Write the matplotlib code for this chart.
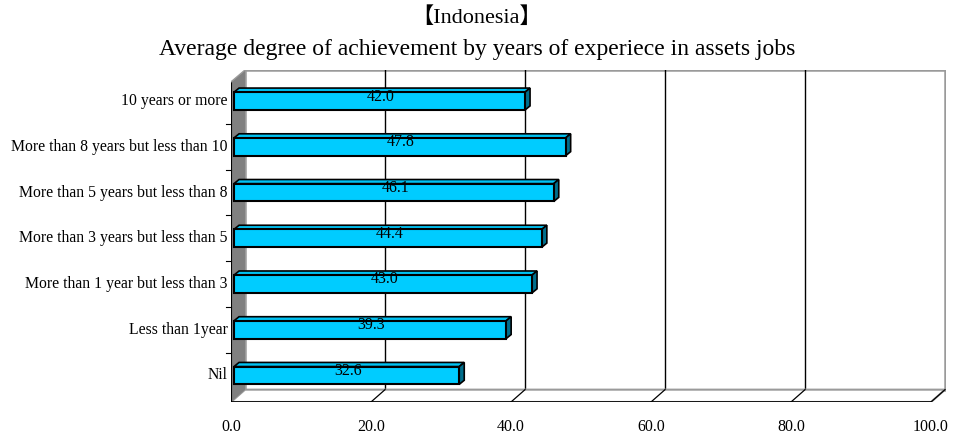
import numpy as np
import matplotlib
matplotlib.use('Agg')
import matplotlib.pyplot as plt
from matplotlib.patches import Polygon, Rectangle

# data (bottom to top)
categories = ['Nil', 'Less than 1year', 'More than 1 year but less than 3',
              'More than 3 years but less than 5', 'More than 5 years but less than 8',
              'More than 8 years but less than 10', '10 years or more']
values = [32.6, 39.3, 43.0, 44.4, 46.1, 47.8, 42.0]
xticks = [0, 20, 40, 60, 80, 100]

W, H = 954, 434
fig = plt.figure(figsize=(W / 100, H / 100), dpi=100)

# axes span: left wall front (px 231) to back wall right (px 946)
x_lo, x_hi = 0.0, 102.14
y_lo, y_hi = -0.58, 6.68
ax = fig.add_axes([231 / W, 1 - 402 / H, (946 - 231) / W, (402 - 70) / H])
ax.set_xlim(x_lo, x_hi)
ax.set_ylim(y_lo, y_hi)
ax.axis('off')

dx, dy = 2.0, 0.27          # depth offset of the 3D walls
front_top = 6.42
wall_grey = '#808080'
edge_grey = '#9a9a9a'
serif = 'Liberation Serif'

# back wall
ax.add_patch(Rectangle((dx, y_lo + dy), 100, y_hi - y_lo - dy, facecolor='white',
                       edgecolor=edge_grey, lw=1.8, zorder=1))
for t in xticks[1:-1]:
    ax.plot([t + dx, t + dx], [y_lo + dy, y_hi], color='black', lw=1, zorder=2)

# floor
ax.add_patch(Polygon([(0, y_lo), (100, y_lo), (100 + dx, y_lo + dy), (dx, y_lo + dy)],
                     closed=True, facecolor='white', edgecolor=edge_grey, lw=1.5, zorder=2))
ax.plot([0, 100], [y_lo + 0.005, y_lo + 0.005], color='black', lw=1.2, zorder=3)
for t in xticks[1:]:
    ax.plot([t, t + dx], [y_lo, y_lo + dy], color='black', lw=0.9, zorder=3)

# left wall
ax.add_patch(Polygon([(0, y_lo), (0, front_top), (dx, y_hi), (dx, y_lo + dy)],
                     closed=True, facecolor=wall_grey, edgecolor='none', zorder=3))
ax.plot([0, 0], [y_lo, front_top], color='black', lw=1.5, zorder=4)
ax.plot([0, dx], [front_top, y_hi], color=edge_grey, lw=1, zorder=4)
for k in range(len(categories) - 1):
    ax.plot([-0.7, 0], [k + 0.5, k + 0.5], color='black', lw=0.8, zorder=4, clip_on=False)

# bars
bh = 0.39
x0 = 0.43
bdx, bdy = 0.72, 0.09
for i, v in enumerate(values):
    yb, yt = i - bh / 2, i + bh / 2
    ax.add_patch(Polygon([(x0, yt), (v, yt), (v + bdx, yt + bdy), (x0 + bdx, yt + bdy)],
                         closed=True, facecolor='#00C2F2', edgecolor='black', lw=1.2, zorder=5))
    ax.add_patch(Polygon([(v, yb), (v + bdx, yb + bdy), (v + bdx, yt + bdy), (v, yt)],
                         closed=True, facecolor='#006E8C', edgecolor='black', lw=1.2, zorder=5))
    ax.add_patch(Rectangle((x0, yb), v - x0, bh, facecolor='#00CCFF',
                           edgecolor='black', lw=1.5, zorder=6))
    ax.text(v / 2 + 0.4, i + 0.1, f'{v:.1f}', ha='center', va='center',
            fontsize=11.5, family=serif, zorder=7)
    ax.text(-0.45, i, categories[i], ha='right', va='center', fontsize=11.3,
            family=serif, zorder=7)

for t in xticks:
    ax.text(t, y_lo - 0.55, f'{t:.1f}', ha='center', va='center', fontsize=11.5,
            family=serif)

fig.text(477 / W, 1 - 18 / H, '【Indonesia】', ha='center', va='center', fontsize=16,
         family=[serif, 'Noto Sans CJK JP'])
fig.text(477 / W, 1 - 49 / H,
         'Average degree of achievement by years of experiece in assets jobs',
         ha='center', va='center', fontsize=17, family=serif)

fig.savefig('out.png', dpi=100)
